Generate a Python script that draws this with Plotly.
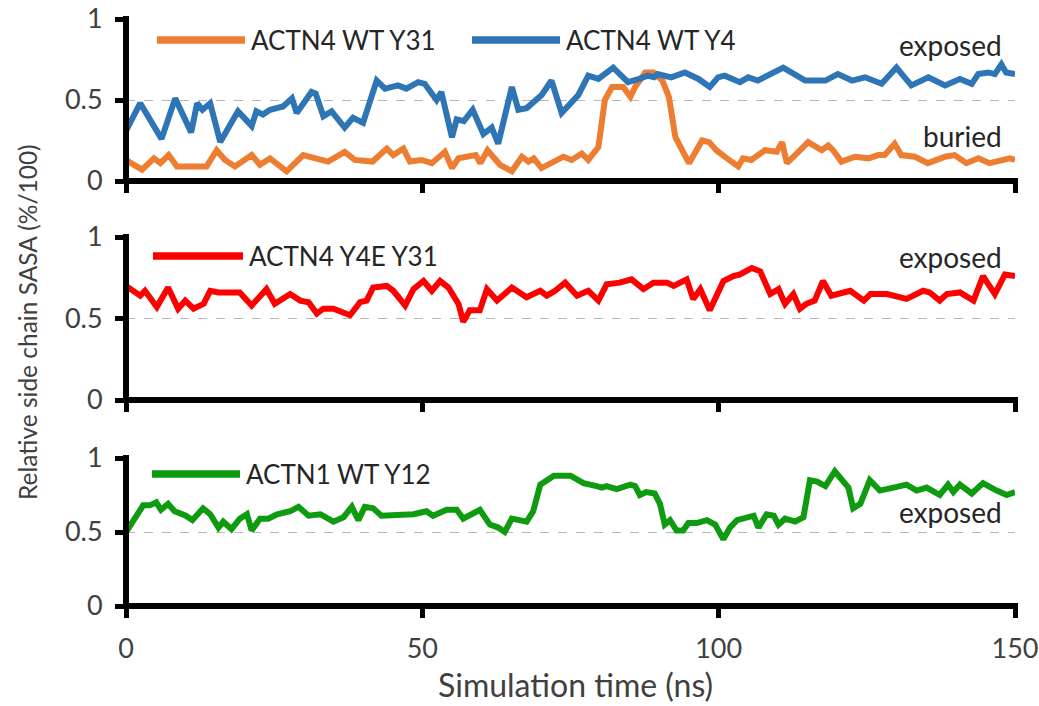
import plotly.graph_objects as go

# ---------------- data ----------------
time_wt_y4 = [0, 2.4, 6, 8.3, 11, 12, 12.9, 14.2, 15.9, 18.9, 21.2, 22, 23.1, 24.3, 26.5, 28, 28.8, 31.3, 32, 33.3,
              34.7, 36.9, 38.3, 40, 42.3, 43.7, 45.9, 47.3, 49.3, 50.4, 52.4, 53.2, 55, 55.8, 57, 58.5, 60.3, 61.7, 62.8, 65.1,
              66.2, 67.6, 70.1, 71.8, 73.5, 75.2, 76.3, 78, 79.7, 82.2, 84.7, 86.6, 88, 89.1, 89.7, 92, 94.3, 96.6, 98.5, 99.9,
              101, 103.6, 105, 106.6, 110.9, 114.6, 118, 120.1, 122.5, 124.7, 127.5, 130, 132.5, 135.4, 138.2, 140.7, 142.7, 143.8, 145.5, 146.6,
              147.7, 148.5, 150]
sasa_wt_y4 = [0.31, 0.48, 0.26, 0.51, 0.30, 0.48, 0.44, 0.48, 0.24, 0.43, 0.34, 0.43, 0.41, 0.44, 0.46, 0.51, 0.42, 0.55, 0.54, 0.40,
              0.43, 0.33, 0.39, 0.36, 0.62, 0.57, 0.59, 0.57, 0.61, 0.60, 0.50, 0.55, 0.27, 0.38, 0.37, 0.44, 0.29, 0.33, 0.23, 0.58,
              0.44, 0.45, 0.53, 0.62, 0.42, 0.49, 0.53, 0.65, 0.63, 0.70, 0.61, 0.63, 0.65, 0.64, 0.66, 0.64, 0.67, 0.63, 0.58, 0.64,
              0.65, 0.61, 0.64, 0.62, 0.70, 0.62, 0.62, 0.66, 0.62, 0.64, 0.60, 0.70, 0.59, 0.64, 0.59, 0.63, 0.60, 0.66, 0.67, 0.66,
              0.72, 0.67, 0.66]

time_wt_y31 = [0, 2.7, 4.7, 5.8, 7.2, 8.6, 10.5, 13.6, 15.3, 16.7, 18.4, 21.2, 22.6, 24.3, 27.1, 29.9, 32, 34.1, 36.9, 38.6,
               41.6, 44, 45.1, 46.8, 47.9, 49.9, 51.6, 53.8, 55, 56.1, 59, 59.8, 61, 63.1, 65.1, 66.8, 67.9, 68.8, 70.1, 71.8,
               73.8, 75.2, 76.9, 78, 79.7, 80.8, 82, 83.9, 85.1, 85.9, 87.6, 89, 90.5, 91.6, 92.7, 95, 97.2, 98.4, 99.6, 101,
               103.3, 104.1, 105.5, 107.8, 109.8, 110.7, 111.5, 112.9, 115.1, 117.4, 118.5, 119.3, 120.7, 123, 125.3, 126.9, 128, 129.7, 130.8, 133.1,
               135.3, 138.2, 139.8, 141.8, 143.8, 145.7, 147.7, 149.1, 150]
sasa_wt_y31 = [0.13, 0.07, 0.14, 0.11, 0.16, 0.09, 0.09, 0.09, 0.19, 0.13, 0.09, 0.16, 0.10, 0.14, 0.06, 0.16, 0.14, 0.12, 0.18, 0.13,
               0.12, 0.20, 0.16, 0.20, 0.12, 0.13, 0.11, 0.18, 0.08, 0.14, 0.16, 0.11, 0.19, 0.10, 0.06, 0.15, 0.12, 0.14, 0.08, 0.11,
               0.15, 0.13, 0.17, 0.13, 0.21, 0.50, 0.58, 0.58, 0.52, 0.58, 0.67, 0.67, 0.62, 0.52, 0.27, 0.11, 0.25, 0.24, 0.19, 0.15,
               0.09, 0.14, 0.13, 0.19, 0.18, 0.24, 0.11, 0.16, 0.24, 0.19, 0.22, 0.19, 0.12, 0.15, 0.14, 0.16, 0.16, 0.23, 0.16, 0.15,
               0.11, 0.15, 0.16, 0.11, 0.14, 0.11, 0.13, 0.14, 0.13]

time_y4e_y31 = [0, 2.4, 3.2, 5.2, 7.1, 8.8, 10, 11.4, 13.1, 14.2, 15.6, 19.2, 21.2, 23.7, 25.1, 27.7, 29.4, 30.8, 32.2, 33.3,
                35, 37.8, 39.5, 40.6, 41.7, 44, 45.1, 47.1, 48.5, 50.2, 51.6, 53, 54.4, 56.1, 56.9, 58, 59.7, 60.9, 62.6, 65.1,
                67.6, 69.9, 71, 72.4, 74.1, 76.1, 78, 79.7, 81.1, 83.3, 85.3, 87.3, 89, 91.3, 92.4, 94.6, 95.7, 96.9, 98.5, 100.8,
                102.5, 103.6, 105.6, 107, 108.7, 110.1, 111.2, 112.6, 113.7, 114.8, 116.2, 117.6, 119, 122.2, 124.5, 125.6, 128.4, 129.6, 131.7, 134.5,
                135.6, 137.3, 138.5, 140.7, 143, 144.6, 146.6, 148.3, 150]
sasa_y4e_y31 = [0.70, 0.64, 0.67, 0.57, 0.69, 0.56, 0.61, 0.56, 0.59, 0.67, 0.66, 0.66, 0.58, 0.68, 0.59, 0.65, 0.61, 0.60, 0.53, 0.56,
                0.56, 0.52, 0.60, 0.61, 0.69, 0.70, 0.67, 0.58, 0.68, 0.73, 0.67, 0.73, 0.69, 0.59, 0.48, 0.55, 0.55, 0.68, 0.61, 0.69,
                0.63, 0.67, 0.64, 0.67, 0.72, 0.64, 0.67, 0.61, 0.71, 0.72, 0.74, 0.68, 0.72, 0.72, 0.70, 0.74, 0.62, 0.68, 0.55, 0.73,
                0.76, 0.77, 0.81, 0.79, 0.65, 0.68, 0.59, 0.65, 0.56, 0.59, 0.61, 0.73, 0.64, 0.67, 0.61, 0.65, 0.65, 0.64, 0.62, 0.67,
                0.66, 0.61, 0.65, 0.66, 0.61, 0.76, 0.65, 0.77, 0.76]

time_actn1_y12 = [0, 2.9, 4, 5.1, 5.9, 7.1, 8.2, 10.1, 11.2, 13, 14.2, 15.6, 16.4, 17.8, 19.2, 20.4, 21.2, 22.6, 24, 25.5,
                  27.7, 29.1, 30.8, 32.8, 35, 36.7, 38.1, 39.2, 40.3, 41.7, 43.1, 46.2, 48.5, 50.7, 51.8, 54.1, 55.8, 56.9, 58.3, 59.7,
                  61.4, 62.8, 63.9, 65.1, 67.6, 68.7, 69.9, 71.3, 72.2, 75, 77.2, 79.4, 80.3, 81.1, 82.8, 85.1, 85.9, 86.7, 87.8, 89.2,
                  90.1, 90.9, 91.8, 92.9, 94, 94.9, 96.3, 98, 99.4, 100.8, 101.9, 103.1, 105, 105.9, 106.7, 108.1, 109.3, 110.1, 111.2, 112.9,
                  114.3, 115.4, 116.6, 118, 119.6, 120.7, 121.9, 122.7, 123.9, 125.5, 127.2, 129.5, 131.7, 133.4, 135.1, 137.3, 138.7, 139.6, 140.7, 142.7,
                  144.6, 146.9, 148.6, 150]
sasa_actn1_y12 = [0.50, 0.68, 0.68, 0.70, 0.65, 0.69, 0.64, 0.61, 0.58, 0.66, 0.62, 0.53, 0.57, 0.52, 0.59, 0.62, 0.51, 0.59, 0.59, 0.62,
                  0.64, 0.67, 0.61, 0.62, 0.57, 0.60, 0.67, 0.58, 0.67, 0.66, 0.61, 0.61, 0.62, 0.64, 0.61, 0.65, 0.65, 0.59, 0.62, 0.65,
                  0.55, 0.53, 0.50, 0.59, 0.57, 0.64, 0.82, 0.86, 0.88, 0.88, 0.83, 0.81, 0.80, 0.81, 0.79, 0.82, 0.81, 0.75, 0.77, 0.76,
                  0.69, 0.55, 0.58, 0.51, 0.51, 0.56, 0.56, 0.58, 0.55, 0.45, 0.53, 0.58, 0.60, 0.61, 0.53, 0.62, 0.61, 0.55, 0.59, 0.57,
                  0.60, 0.85, 0.84, 0.81, 0.91, 0.86, 0.80, 0.66, 0.69, 0.85, 0.78, 0.80, 0.82, 0.78, 0.80, 0.75, 0.82, 0.77, 0.82, 0.76,
                  0.83, 0.78, 0.75, 0.77]

x_ticks = [0, 50, 100, 150]
y_ticks = [0, 0.5, 1]
y_tick_text = ["0", "0.5", "1"]

# ---------------- styling ----------------
C_ORANGE = "#ED7D31"
C_BLUE = "#2E75B6"
C_RED = "#FF0000"
C_GREEN = "#0F9B0F"
FONT = "Lato"
TXT = "#404040"
DARK = "#262626"
LW = 6
W, H = 1039, 706

fig = go.Figure()
fig.add_trace(go.Scatter(x=time_wt_y31, y=sasa_wt_y31, mode="lines", name="ACTN4 WT Y31",
                         line=dict(color=C_ORANGE, width=LW), xaxis="x", yaxis="y", showlegend=False))
fig.add_trace(go.Scatter(x=time_wt_y4, y=sasa_wt_y4, mode="lines", name="ACTN4 WT Y4",
                         line=dict(color=C_BLUE, width=LW), xaxis="x", yaxis="y", showlegend=False))
fig.add_trace(go.Scatter(x=time_y4e_y31, y=sasa_y4e_y31, mode="lines", name="ACTN4 Y4E Y31",
                         line=dict(color=C_RED, width=LW), xaxis="x2", yaxis="y2", showlegend=False))
fig.add_trace(go.Scatter(x=time_actn1_y12, y=sasa_actn1_y12, mode="lines", name="ACTN1 WT Y12",
                         line=dict(color=C_GREEN, width=LW), xaxis="x3", yaxis="y3", showlegend=False))

x_dom = [126 / W, 1015 / W]
y_doms = [[1 - 181 / H, 1 - 19 / H], [1 - 400 / H, 1 - 237 / H], [1 - 606 / H, 1 - 458 / H]]


def xax(anchor, labels):
    return dict(domain=x_dom, anchor=anchor, range=[0, 150], tickvals=x_ticks, automargin=False,
                showticklabels=labels, ticks="outside", ticklen=11, tickwidth=5, tickcolor="black",
                showline=False, showgrid=False, zeroline=False,
                tickfont=dict(family=FONT, size=27, color=TXT), ticklabelstandoff=8)


def yax(anchor, dom):
    return dict(domain=dom, anchor=anchor, range=[0, 1], tickvals=y_ticks, ticktext=y_tick_text, automargin=False,
                ticks="outside", ticklen=10, tickwidth=5, tickcolor="black",
                showline=False, zeroline=False,
                showgrid=True, gridcolor="#b8b8b8", gridwidth=1, griddash="dash",
                tickfont=dict(family=FONT, size=27, color=TXT), ticklabelstandoff=7)


fig.update_layout(
    width=W, height=H, margin=dict(l=0, r=0, t=0, b=0, autoexpand=False),
    paper_bgcolor="white", plot_bgcolor="white",
    xaxis=xax("y", False), yaxis=yax("x", y_doms[0]),
    xaxis2=xax("y2", False), yaxis2=yax("x2", y_doms[1]),
    xaxis3=xax("y3", True), yaxis3=yax("x3", y_doms[2]),
)

# black axis lines along each panel's left and bottom edges (paper refs so they are not clipped)
AXW = 6
for dom in y_doms:
    fig.add_shape(type="line", xref="paper", yref="paper", x0=x_dom[0] - 3 / W, x1=x_dom[1] + 3 / W,
                  y0=dom[0], y1=dom[0], line=dict(color="black", width=AXW), layer="above")
    fig.add_shape(type="line", xref="paper", yref="paper", x0=x_dom[0], x1=x_dom[0],
                  y0=dom[0], y1=dom[1] + 3 / H, line=dict(color="black", width=AXW), layer="above")

# legend keys (line samples + labels)
legend_items = [
    (157, 245, 40, C_ORANGE, "ACTN4 WT Y31"),
    (472, 560, 40, C_BLUE, "ACTN4 WT Y4"),
    (153, 243, 256, C_RED, "ACTN4 Y4E Y31"),
    (152, 240, 474, C_GREEN, "ACTN1 WT Y12"),
]
for x0, x1, yy, col, label in legend_items:
    fig.add_shape(type="line", xref="paper", yref="paper", x0=x0 / W, x1=x1 / W,
                  y0=1 - yy / H, y1=1 - yy / H, line=dict(color=col, width=7.5))
    fig.add_annotation(xref="paper", yref="paper", x=(x1 + 4) / W, y=1 - yy / H, text=label,
                       showarrow=False, xanchor="left", yanchor="middle",
                       font=dict(family=FONT, size=26, color=DARK))

# state labels
for txt, yy in [("exposed", 45), ("buried", 136), ("exposed", 257), ("exposed", 512)]:
    fig.add_annotation(xref="paper", yref="paper", x=1004 / W, y=1 - yy / H, text=txt,
                       showarrow=False, xanchor="right", yanchor="middle",
                       font=dict(family=FONT, size=28, color=DARK))

# axis titles
fig.add_annotation(xref="paper", yref="paper", x=575 / W, y=1 - 684 / H, text="Simulation time (ns)",
                   showarrow=False, xanchor="center", yanchor="middle",
                   font=dict(family=FONT, size=32, color=TXT))
fig.add_annotation(xref="paper", yref="paper", x=28 / W, y=1 - 322 / H, text="Relative side chain SASA (%/100)",
                   showarrow=False, textangle=-90, xanchor="center", yanchor="middle",
                   font=dict(family=FONT, size=24.5, color=TXT))

fig.write_html("out.html")
